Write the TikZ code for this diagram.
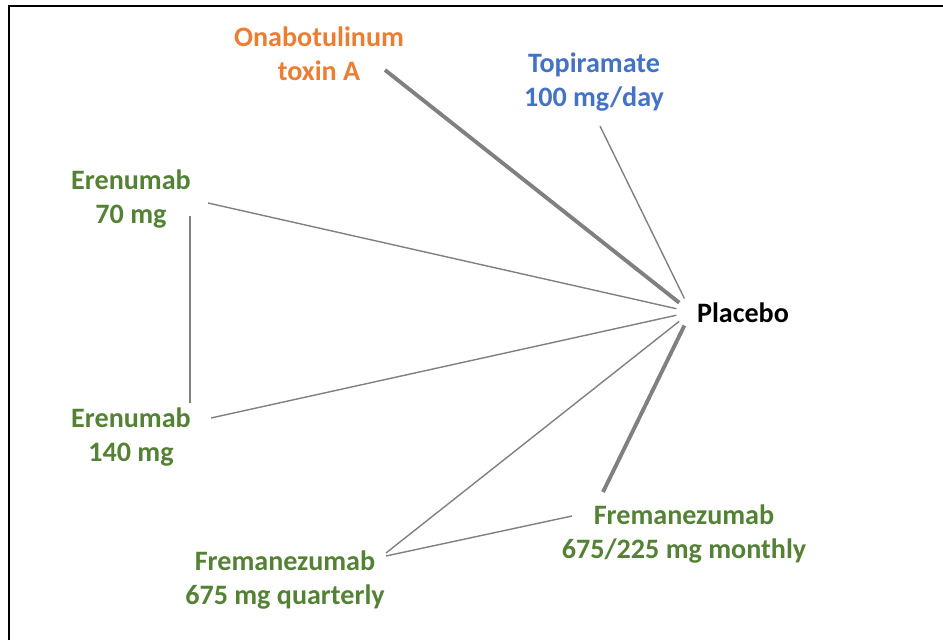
\documentclass[tikz,border=0pt]{standalone}
\usepackage{fontspec}
\setmainfont{Carlito}
\usepackage{tikz}
\definecolor{onaorange}{RGB}{237,125,49}
\definecolor{topblue}{RGB}{68,114,196}
\definecolor{drggreen}{RGB}{84,130,53}
\definecolor{edgegray}{RGB}{128,128,128}
\begin{document}
\begin{tikzpicture}[x=0.02cm,y=-0.02cm,
  every node/.style={inner sep=0pt,align=center,font=\fontsize{16}{19.5}\selectfont\bfseries},
  thinedge/.style={edgegray,line width=0.8pt,shorten >=0.3cm},
  thickedge/.style={edgegray,line width=2.2pt,shorten >=0.3cm}]
\useasboundingbox (0,0) rectangle (943,640);
\draw [black,line width=1.5pt] (9,640) -- (9,6) -- (943,6);
% treatments
\node [onaorange] (ona) at (319,54) {Onabotulinum\\toxin A};
\node [topblue] (topi) at (594,82) {Topiramate\\100 mg/day};
\node [drggreen] (eren70) at (131,199) {Erenumab\\70 mg};
\node [drggreen] (eren140) at (131,437) {Erenumab\\140 mg};
\node [drggreen] (fremq) at (285,580) {Fremanezumab\\675 mg quarterly};
\node [drggreen] (fremm) at (684,534) {Fremanezumab\\675/225 mg monthly};
\node [black] (plc) at (743,313) {Placebo};
% comparisons
\draw [thickedge] ([shift={(66,16)}]ona.center) -- ([shift={(-52,-1)}]plc.center);
\draw [thinedge] ([shift={(6,44)}]topi.center) -- ([shift={(-52,-1)}]plc.center);
\draw [thinedge] ([shift={(77,4)}]eren70.center) -- ([shift={(-52,-1)}]plc.center);
\draw [thinedge] ([shift={(80,-19)}]eren140.center) -- ([shift={(-52,-1)}]plc.center);
\draw [thinedge] ([shift={(101,-27)}]fremq.center) -- ([shift={(-52,-1)}]plc.center);
\draw [thickedge] ([shift={(-81,-42)}]fremm.center) -- ([shift={(-52,-1)}]plc.center);
\draw [edgegray,line width=0.8pt] ([shift={(59,17)}]eren70.center) -- ([shift={(59,-34)}]eren140.center);
\draw [edgegray,line width=0.8pt] ([shift={(101,-24)}]fremq.center) -- ([shift={(-112,-18)}]fremm.center);
\end{tikzpicture}
\end{document}
